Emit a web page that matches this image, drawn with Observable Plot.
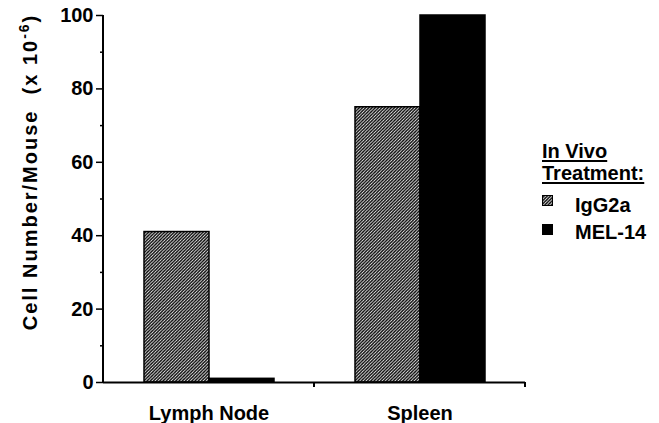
<!DOCTYPE html>
<html><head><meta charset="utf-8">
<script src="https://cdn.jsdelivr.net/npm/d3@7"></script>
<script src="https://cdn.jsdelivr.net/npm/@observablehq/plot@0.6"></script>
<style>
body{margin:0;background:#fff;}
#wrap{position:relative;width:659px;height:423px;font-family:"Liberation Sans",Arial,sans-serif;font-weight:bold;color:#000;}
.lg{position:absolute;font-size:20px;line-height:20px;white-space:nowrap;}
.ul{text-decoration:underline;text-decoration-thickness:2px;text-underline-offset:2px;}
.sw{position:absolute;width:11px;height:11px;box-sizing:border-box;}
</style></head><body><div id="wrap"></div>
<script>
const groups = ["Lymph Node", "Spleen"];
const treatments = ["IgG2a", "MEL-14"];
const igg2a = [41, 75];
const mel14 = [1, 100];
const yTicks = [0, 20, 40, 60, 80, 100];
const yMinorTicks = [10, 30, 50, 70, 90];
const yLabel = "Cell Number/Mouse  (x 10";
const yLabelExp = "-6";
const yLabelEnd = ")";
const legendTitle = ["In Vivo", "Treatment:"];

const data = groups.flatMap((g, i) => [
  {group: g, treatment: treatments[0], value: igg2a[i]},
  {group: g, treatment: treatments[1], value: mel14[i]}
]);

const chart = Plot.plot({
  width: 659, height: 423,
  marginLeft: 103, marginRight: 134, marginTop: 15, marginBottom: 41,
  style: {fontFamily: "'Liberation Sans', Arial, sans-serif", fontWeight: "bold", fontSize: "20px", background: "white", color: "black"},
  fx: {domain: groups, padding: 0, label: null, axis: "bottom", tickSize: 0, tickPadding: 23},
  x: {domain: treatments, paddingInner: 0, paddingOuter: 0.615, axis: null},
  y: {domain: [0, 100]},
  color: {domain: treatments, range: ["url(#hatch)", "black"]},
  marks: [
    Plot.barY(data, {fx: "group", x: "treatment", y: "value", fill: "treatment", stroke: "black", strokeWidth: 1.5}),
    Plot.ruleY([0], {stroke: "black", strokeWidth: 2}),
    Plot.axisY(yTicks, {anchor: "left", tickSize: 7, tickPadding: 3, strokeWidth: 1.5, label: null, fontSize: 20, fontWeight: "bold"}),
    Plot.axisY(yMinorTicks, {anchor: "left", tickSize: 3, strokeWidth: 1.5, label: null, tickFormat: () => ""})
  ]
});

const svg = d3.select(chart);
const defs = svg.insert("defs", ":first-child");
const s = 3.2;
const pat = defs.append("pattern").attr("id", "hatch").attr("patternUnits", "userSpaceOnUse")
  .attr("width", s).attr("height", s);
pat.append("rect").attr("width", s).attr("height", s).attr("fill", "white");
pat.append("path").attr("d", `M-1,1 L1,-1 M0,${s} L${s},0 M${s-1},${s+1} L${s+1},${s-1}`)
  .attr("stroke", "black").attr("stroke-width", 1.4);

const fx = chart.scale("fx"), y = chart.scale("y");
const x0 = fx.apply(groups[0]);
const y0 = y.apply(0), y1 = y.apply(100);
const g = svg.append("g").attr("stroke", "black").attr("stroke-width", 2);
g.append("line").attr("x1", x0).attr("x2", x0).attr("y1", y1).attr("y2", y0 + 1);
groups.forEach(gr => {
  const xe = fx.apply(gr) + fx.bandwidth;
  g.append("line").attr("x1", xe).attr("x2", xe).attr("y1", y0).attr("y2", y0 + 5);
});

const t = svg.append("text").attr("transform", `translate(37,172) rotate(-90)`)
  .attr("text-anchor", "middle").attr("font-size", 20).attr("font-weight", "bold")
  .attr("letter-spacing", "2px").attr("fill", "black");
t.append("tspan").text(yLabel);
t.append("tspan").attr("font-size", 14).attr("dy", -8).text(yLabelExp);
t.append("tspan").attr("dy", 8).text(yLabelEnd);

const wrap = document.getElementById("wrap");
wrap.appendChild(chart);

function addDiv(cls, txt, left, top) {
  const d = document.createElement("div");
  d.className = cls; d.textContent = txt;
  d.style.left = left + "px"; d.style.top = top + "px";
  wrap.appendChild(d);
  return d;
}
addDiv("lg ul", legendTitle[0], 542, 141);
addDiv("lg ul", legendTitle[1], 542, 163);
addDiv("lg", treatments[0], 575, 195);
addDiv("lg", treatments[1], 575, 222);
const sw1 = document.createElement("div");
sw1.className = "sw"; sw1.style.left = "542px"; sw1.style.top = "195px";
sw1.innerHTML = `<svg width="11" height="11" style="display:block"><defs><pattern id="hatch2" patternUnits="userSpaceOnUse" width="${s}" height="${s}"><rect width="${s}" height="${s}" fill="white"/><path d="M-1,1 L1,-1 M0,${s} L${s},0 M${s-1},${s+1} L${s+1},${s-1}" stroke="black" stroke-width="1.4"/></pattern></defs><rect x="0.5" y="0.5" width="10" height="10" fill="url(#hatch2)" stroke="black" stroke-width="1"/></svg>`;
wrap.appendChild(sw1);
const sw2 = document.createElement("div");
sw2.className = "sw"; sw2.style.left = "542px"; sw2.style.top = "224px"; sw2.style.background = "black";
wrap.appendChild(sw2);
</script></body></html>
